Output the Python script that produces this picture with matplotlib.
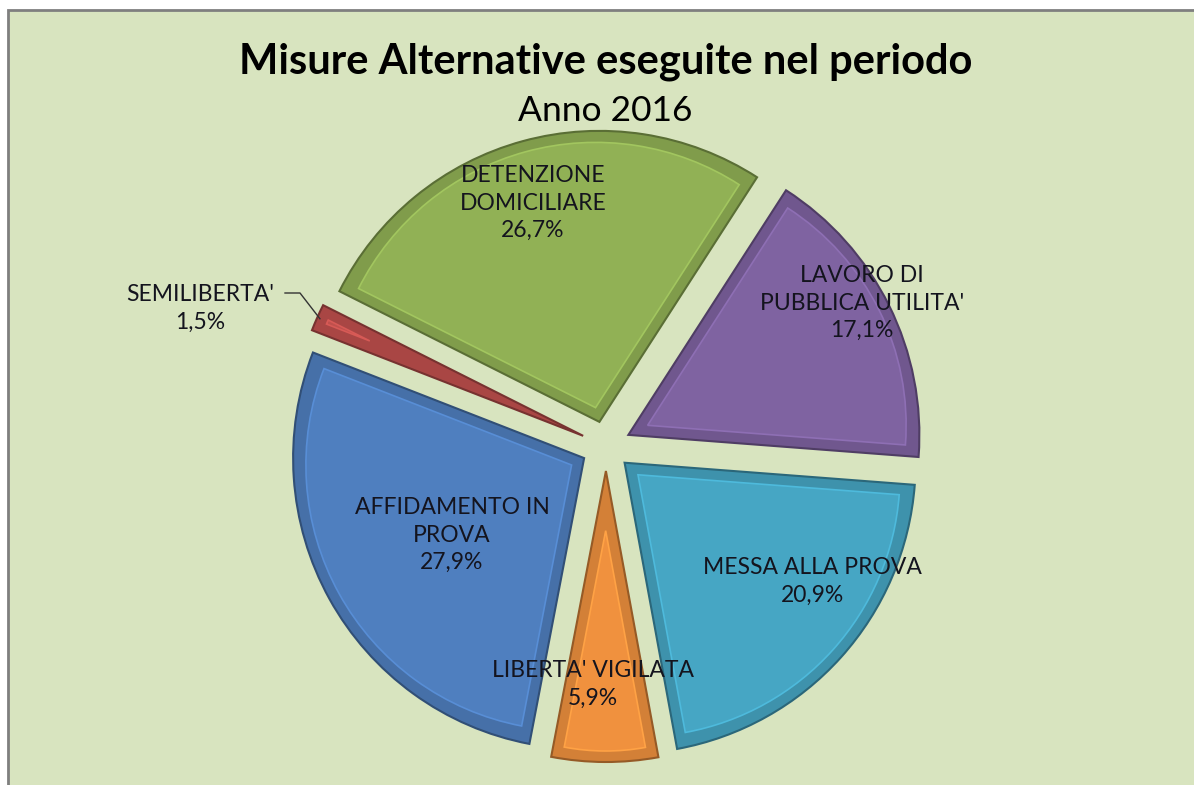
import numpy as np
import matplotlib
matplotlib.use("Agg")
import matplotlib.pyplot as plt
from matplotlib.patches import Rectangle, Wedge
from matplotlib.colors import to_rgb

# data
categories = ["LAVORO DI\nPUBBLICA UTILITA'", "MESSA ALLA PROVA", "LIBERTA' VIGILATA",
              "AFFIDAMENTO IN\nPROVA", "SEMILIBERTA'", "DETENZIONE\nDOMICILIARE"]
shares = [17.1, 20.9, 5.9, 27.9, 1.5, 26.7]
pct_labels = ["17,1%", "20,9%", "5,9%", "27,9%", "1,5%", "26,7%"]

colors = ["#7f63a1", "#46a6c4", "#f0913e", "#4f7fbf", "#c0504d", "#91b155"]

W, H = 1194, 785
fig = plt.figure(figsize=(W / 100, H / 100), dpi=100, facecolor="white")
ax = fig.add_axes([0, 0, 1, 1])

ax.add_patch(Rectangle((8, -30), W + 40, H - 10 + 30, facecolor="#d8e4bf",
                       edgecolor="#7f7f7f", lw=2, zorder=0))

cx, cy = 606, H - 446
radius = 291
wedges, _ = ax.pie(shares, startangle=57.2, counterclock=False, radius=radius,
                   center=(cx, cy), explode=[25] * len(shares), colors=colors,
                   frame=True,
                   wedgeprops=dict(linewidth=1.5, zorder=2))
ax.set_xlim(0, W)
ax.set_ylim(0, H)
ax.set_aspect("equal")
ax.axis("off")

# bevel look: darker band with an inset face
inset = 11
for w, c in zip(wedges, colors):
    rgb = np.array(to_rgb(c))
    w.set_facecolor(rgb * 0.88)
    w.set_edgecolor(rgb * 0.62)
    t1, t2 = w.theta1, w.theta2
    half = np.deg2rad((t2 - t1) / 2)
    mid = np.deg2rad((t1 + t2) / 2)
    s = inset / np.sin(half)
    r_in = w.r - inset - s
    if r_in <= 0:
        continue
    c0 = (w.center[0] + s * np.cos(mid), w.center[1] + s * np.sin(mid))
    ax.add_patch(Wedge(c0, r_in, t1, t2, facecolor=rgb, edgecolor=np.minimum(rgb * 1.12, 1),
                       lw=1.2, zorder=3))

fig.text(0.507, 1 - 62 / H, "Misure Alternative eseguite nel periodo", ha="center", va="center",
         fontsize=30, fontweight="bold", family="Lato", color="black")
fig.text(0.507, 1 - 111 / H, "Anno 2016", ha="center", va="center",
         fontsize=25.5, family="Lato", color="black")

label_xy = [(862, 303), (812, 581), (593, 684), (452, 535), (200, 308), (533, 203)]
for cat, pct, (lx, ly) in zip(categories, pct_labels, label_xy):
    ax.text(lx, H - ly, cat + "\n" + pct, ha="center", va="center", fontsize=16.5,
            family="Lato", color="#14141e", linespacing=1.4, zorder=5)

# leader line for the small slice
red = wedges[4]
m = np.deg2rad((red.theta1 + red.theta2) / 2)
tip = (red.center[0] + red.r * 0.99 * np.cos(m), red.center[1] + red.r * 0.99 * np.sin(m))
ax.plot([285, 300, tip[0]], [H - 293, H - 293, tip[1]], color="#333333", lw=1, zorder=5)

fig.savefig("out.png", dpi=100, facecolor="white")
